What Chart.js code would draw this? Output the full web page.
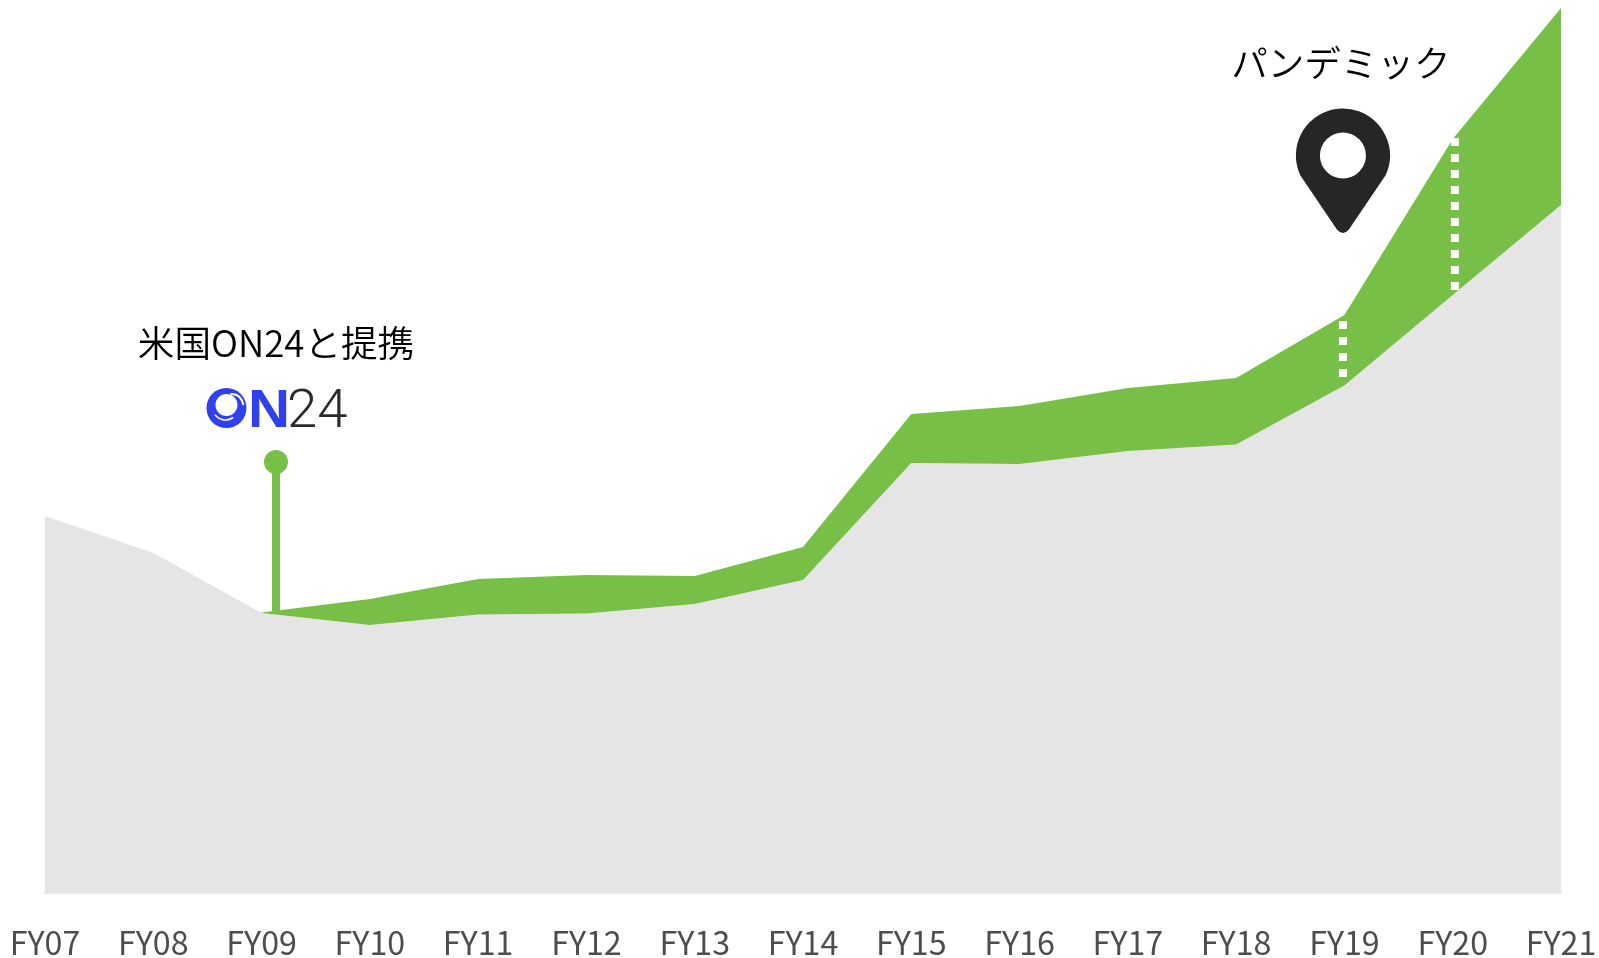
<!DOCTYPE html>
<html lang="ja">
<head>
<meta charset="utf-8">
<style>
html,body{margin:0;padding:0;background:#fff;overflow:hidden}
#wrap{width:1599px;height:958px;position:relative}
</style>
<script src="https://cdn.jsdelivr.net/npm/chart.js@4"></script>
</head>
<body>
<div id="wrap"><canvas id="c"></canvas></div>
<script>
const categories = ['FY07','FY08','FY09','FY10','FY11','FY12','FY13','FY14','FY15','FY16','FY17','FY18','FY19','FY20','FY21'];
const baseValues = [377,340,280,268,278.5,279.5,289,313,430,429,442,448.5,507.5,598,688];
const totalValues = [null,null,280.5,294,314,318,317,346,479,487,505,515,578,754,885];
const partnerMarkX = 2.133;
const partnerMarkY = [431,282];
const pandemicX = [11.986,13.02];
const dots2019 = [572,516];
const dots2020 = [755,603];
const partnerLabel = '米国ON24と提携';
const pandemicLabel = 'パンデミック';
const GREEN = '#78bf48', GRAY = '#e5e5e5';
const FONT = '"Noto Sans CJK JP"';

const toPoints = vals => vals.map((y,i)=>y===null?null:{x:i,y}).filter(Boolean);

const annotations = {
  id:'annotations',
  afterDatasetsDraw(chart){
    const {ctx,scales:{x,y}} = chart;
    ctx.save();
    ctx.textAlign='center'; ctx.textBaseline='middle';
    ctx.fillStyle='#000';
    ctx.font=`350 36.6px ${FONT}`;
    const px = x.getPixelForValue(partnerMarkX);
    ctx.fillText(partnerLabel, px, y.getPixelForValue(550));
    ctx.fillText(pandemicLabel, x.getPixelForValue(pandemicX[0])-2, y.getPixelForValue(830));

    // ON24 logo
    const ly = y.getPixelForValue(485), lx = px - 49.5;
    ctx.fillStyle='#3040ec';
    ctx.beginPath(); ctx.arc(lx,ly,20,0,Math.PI*2); ctx.fill();
    ctx.fillStyle='#fff';
    ctx.beginPath(); ctx.arc(lx,ly-3,11,0,Math.PI*2); ctx.fill();
    ctx.strokeStyle='#fff';
    ctx.lineWidth=2;
    ctx.beginPath();
    ctx.moveTo(lx+4,ly-14);
    ctx.quadraticCurveTo(lx+14,ly-15,lx+17,ly-3);
    ctx.stroke();
    ctx.lineWidth=1.6;
    ctx.beginPath();
    ctx.arc(lx-1,ly-1,13,Math.PI*0.3,Math.PI*0.8);
    ctx.stroke();
    ctx.textAlign='left'; ctx.textBaseline='alphabetic';
    ctx.fillStyle='#3040ec';
    ctx.save();
    ctx.translate(px-28,ly+19);
    ctx.scale(1.1,1);
    ctx.font='700 53px "Liberation Sans"';
    ctx.fillText('N',0,0);
    ctx.restore();
    ctx.fillStyle='#2b2b2b';
    ctx.font='300 54.5px Roboto';
    ctx.fillText('24',px+11,ly+19);

    // pin
    const cx = x.getPixelForValue(pandemicX[0]), cy = y.getPixelForValue(737.5), R=47;
    ctx.fillStyle='#262626';
    ctx.beginPath();
    ctx.arc(cx,cy,R,Math.PI*0.86,Math.PI*0.14,false);
    ctx.lineTo(cx+6,cy+74);
    ctx.quadraticCurveTo(cx,cy+81,cx-6,cy+74);
    ctx.closePath();
    ctx.fill();
    ctx.fillStyle='#fff';
    ctx.beginPath(); ctx.arc(cx,cy,23,0,Math.PI*2); ctx.fill();
    ctx.restore();
  }
};

new Chart(document.getElementById('c'),{
  type:'line',
  data:{datasets:[
    {label:'base',data:toPoints(baseValues),backgroundColor:GRAY,borderWidth:0,pointRadius:0,fill:'origin',tension:0,order:3},
    {label:'total',data:toPoints(totalValues),backgroundColor:GREEN,borderWidth:0,pointRadius:0,fill:{target:0},tension:0,order:2},
    {label:'partner',data:partnerMarkY.map(y=>({x:partnerMarkX,y})),borderColor:GREEN,backgroundColor:GREEN,borderWidth:8,pointRadius:[12,0],pointBorderWidth:0,fill:false,order:1},
    {label:'dots19',data:dots2019.map(y=>({x:pandemicX[0],y})),borderColor:'#fff',borderWidth:8,borderDash:[8,8],pointRadius:0,fill:false,order:0},
    {label:'dots20',data:dots2020.map(y=>({x:pandemicX[1],y})),borderColor:'#fff',borderWidth:8,borderDash:[8,8],pointRadius:0,fill:false,order:0}
  ]},
  options:{
    responsive:true,maintainAspectRatio:false,animation:false,
    layout:{autoPadding:false,padding:{left:45,right:38,top:0,bottom:0}},
    plugins:{legend:{display:false},tooltip:{enabled:false}},
    scales:{
      x:{type:'linear',min:0,max:14,
        afterFit(s){s.height=65;s.paddingLeft=0;s.paddingRight=0;},
        grid:{display:false,drawTicks:false},
        border:{display:true,color:'#ebebeb',width:2},
        ticks:{stepSize:1,autoSkip:false,maxRotation:0,padding:30,color:'#4d4d4d',
          font:{family:FONT,size:32.2},
          callback:v=>categories[v]}},
      y:{display:false,min:0,max:893}
    }
  },
  plugins:[annotations]
});
</script>
</body>
</html>
